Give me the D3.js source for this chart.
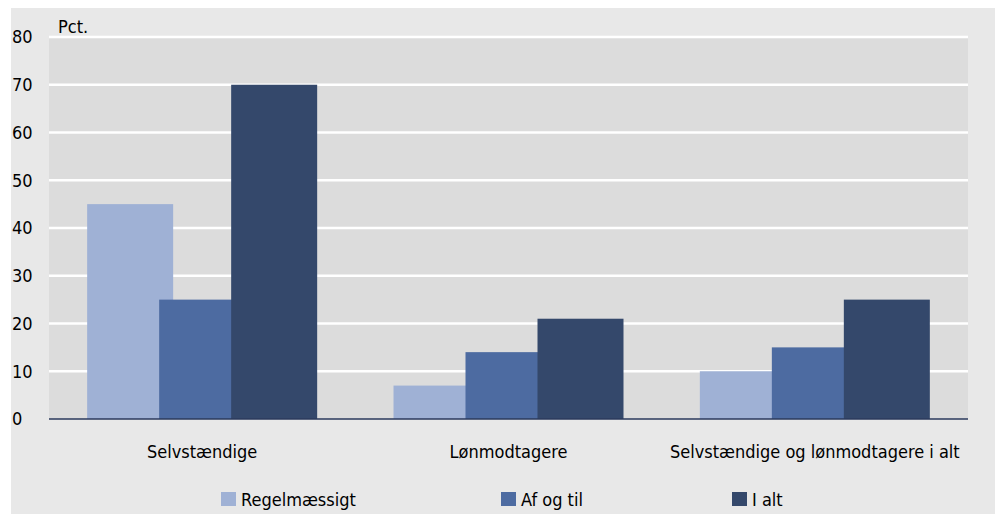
<!DOCTYPE html>
<html>
<head>
<meta charset="utf-8">
<script src="https://cdn.jsdelivr.net/npm/d3@7"></script>
<style>
  body { margin: 0; background: #ffffff; }
  text { font-family: "Liberation Sans Narrow", "DejaVu Sans Condensed", sans-serif; fill: #000; }
</style>
</head>
<body>
<div id="container"></div>
<script>
/* DATA */
const categories = ["Selvstændige", "Lønmodtagere", "Selvstændige og lønmodtagere i alt"];
const series = ["Regelmæssigt", "Af og til", "I alt"];
const regelmaessigt = [45, 7, 10];
const afOgTil = [25, 14, 15];
const iAlt = [70, 21, 25];
const yTicks = [0, 10, 20, 30, 40, 50, 60, 70, 80];
const colors = ["#9fb1d5", "#4d6ba1", "#34486b"];

/* CONSTANTS */
const width = 1000, height = 514;
const margin = { top: 37, bottom: 95, left: 49, right: 32 };

const values = [regelmaessigt, afOgTil, iAlt];
const data = categories.map((c, i) => ({
  cat: c,
  vals: series.map((s, j) => ({ key: s, idx: j, value: values[j][i] }))
}));

/* SCALES */
const x0 = d3.scaleBand()
  .domain(categories)
  .range([margin.left, width - margin.right])
  .padding(0);

const x1 = d3.scalePoint()
  .domain(series)
  .range([-72, 72]);

const barW = 86;

const yScale = d3.scaleLinear()
  .domain([0, 80])
  .range([height - margin.bottom, margin.top]);

/* SVG */
const svg = d3.select("#container")
  .append("svg")
  .attr("width", width)
  .attr("height", height);

// outer panel
svg.append("rect")
  .attr("x", 11).attr("y", 8)
  .attr("width", 984).attr("height", height - 8)
  .attr("fill", "#e8e8e8");

// plot area
svg.append("rect")
  .attr("x", margin.left).attr("y", margin.top)
  .attr("width", width - margin.right - margin.left)
  .attr("height", yScale(0) - margin.top)
  .attr("fill", "#dcdcdc");

// gridlines
svg.append("g")
  .selectAll("line")
  .data(yTicks.filter(d => d > 0))
  .join("line")
  .attr("x1", margin.left)
  .attr("x2", width - margin.right)
  .attr("y1", d => yScale(d))
  .attr("y2", d => yScale(d))
  .attr("stroke", "#ffffff")
  .attr("stroke-width", 2.5);

// bars
const groups = svg.append("g")
  .selectAll("g")
  .data(data)
  .join("g")
  .attr("transform", d => `translate(${x0(d.cat) + x0.bandwidth() / 2},0)`);

groups.selectAll("rect")
  .data(d => d.vals)
  .join("rect")
  .attr("x", d => x1(d.key) - barW / 2)
  .attr("width", barW)
  .attr("y", d => yScale(d.value))
  .attr("height", d => yScale(0) - yScale(d.value))
  .attr("fill", d => colors[d.idx]);

// baseline
svg.append("line")
  .attr("x1", margin.left)
  .attr("x2", width - margin.right)
  .attr("y1", yScale(0))
  .attr("y2", yScale(0))
  .attr("stroke", "#2b3a5c")
  .attr("stroke-width", 1.5);

// y tick labels
svg.append("g")
  .selectAll("text")
  .data(yTicks)
  .join("text")
  .attr("x", 12)
  .attr("y", d => yScale(d))
  .attr("dy", "0.35em")
  .style("font-size", "18px")
  .text(d => d);

svg.append("text")
  .attr("x", 58)
  .attr("y", 33)
  .style("font-size", "18px")
  .text("Pct.");

// category labels
svg.append("g")
  .selectAll("text")
  .data(categories)
  .join("text")
  .attr("x", d => x0(d) + x0.bandwidth() / 2)
  .attr("y", 458)
  .attr("text-anchor", "middle")
  .style("font-size", "18px")
  .text(d => d);

// legend
const legendX = [221, 501, 732];
const legend = svg.append("g")
  .selectAll("g")
  .data(series)
  .join("g")
  .attr("transform", (d, i) => `translate(${legendX[i]},492)`);

legend.append("rect")
  .attr("width", 15)
  .attr("height", 14)
  .attr("fill", (d, i) => colors[i]);

legend.append("text")
  .attr("x", 20)
  .attr("y", 14)
  .style("font-size", "18px")
  .text(d => d);
</script>
</body>
</html>
